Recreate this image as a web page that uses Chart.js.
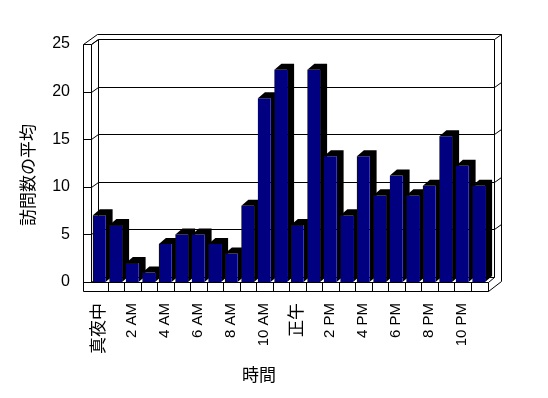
<!DOCTYPE html>
<html>
<head>
<meta charset="utf-8">
<script src="https://cdn.jsdelivr.net/npm/chart.js@4"></script>
<style>
html,body{margin:0;padding:0;background:#fff;}
#wrap{width:548px;height:398px;}
</style>
</head>
<body>
<div id="wrap"><canvas id="c" width="548" height="398"></canvas></div>
<script>
const categories = ['真夜中','1 AM','2 AM','3 AM','4 AM','5 AM','6 AM','7 AM','8 AM','9 AM','10 AM','11 AM',
                    '正午','1 PM','2 PM','3 PM','4 PM','5 PM','6 PM','7 PM','8 PM','9 PM','10 PM','11 PM'];
const visits = [7, 6, 2, 1, 4, 5, 5, 4, 3, 8, 19.3, 22.3, 6, 22.3, 13.2, 7, 13.2, 9.1, 11.2, 9.1, 10.1, 15.3, 12.2, 10.1];
const yTicks = [0, 5, 10, 15, 20, 25];
const xTitle = '時間';
const yTitle = '訪問数の平均';

const FONT = "'Liberation Sans', 'Noto Sans CJK JP', sans-serif";

const frame3d = {
  id: 'frame3d',
  beforeDatasetsDraw(chart) {
    const {ctx, chartArea: a, scales: {x, y}} = chart;
    const L = a.left, R = a.right, T = a.top, B = a.bottom;
    const dx = 7, dy = 5, W = 8, F = 9;
    const bdx = 7, bdy = 6;
    ctx.save();
    ctx.strokeStyle = '#000';
    ctx.lineWidth = 1;
    const line = (pts) => {
      ctx.beginPath();
      pts.forEach((p, i) => {
        const px = Math.round(p[0]) + 0.5, py = Math.round(p[1]) + 0.5;
        if (i) ctx.lineTo(px, py); else ctx.moveTo(px, py);
      });
      ctx.stroke();
    };
    // walls outline
    line([[L - W, B + F], [L - W, T], [L - W + 2 * dx, T - 2 * dy], [R + 2 * dx, T - 2 * dy], [R + 2 * dx, B + F - 2 * dy]]);
    line([[L, B], [L, T], [L + dx, T - dy], [L + dx, B - dy]]);
    line([[R + dx, T - dy], [R + dx, B - dy]]);
    // grid lines on back wall through tick values
    yTicks.forEach(v => {
      const yv = y.getPixelForValue(v);
      if (v === 0) {
        line([[L - W, yv], [L, yv], [L + dx, yv - dy], [R + dx, yv - dy]]);
      } else {
        line([[L - W, yv], [L, yv], [L + dx, yv - dy], [R + dx, yv - dy], [R + 2 * dx, yv - 2 * dy]]);
      }
    });
    // floor front face
    line([[L - W, B + F], [R + 1, B + F], [R + 1, B], [L, B]]);
    line([[R + 1, B + F], [R + 2 * dx, B + F - 2 * dy]]);
    line([[R + 1, B], [R + dx, B - dy]]);
    const n = categories.length;
    for (let i = 1; i < n; i++) {
      const xb = (x.getPixelForValue(i - 1) + x.getPixelForValue(i)) / 2;
      line([[xb, B], [xb, B + F]]);
    }
    // bar depth (top + side faces)
    ctx.fillStyle = '#000';
    chart.getDatasetMeta(0).data.forEach(el => {
      const p = el.getProps(['x', 'y', 'base', 'width'], true);
      const l = p.x - p.width / 2, r = p.x + p.width / 2;
      ctx.beginPath();
      ctx.moveTo(l, p.y);
      ctx.lineTo(l + bdx, p.y - bdy);
      ctx.lineTo(r + bdx, p.y - bdy);
      ctx.lineTo(r + bdx, p.base - bdy);
      ctx.lineTo(r, p.base);
      ctx.lineTo(r, p.y);
      ctx.closePath();
      ctx.fill();
    });
    ctx.restore();
  },
  afterDraw(chart) {
    const {ctx, chartArea: a} = chart;
    ctx.save();
    ctx.fillStyle = '#000';
    ctx.font = "17px 'Noto Sans CJK JP', sans-serif";
    ctx.textAlign = 'center';
    ctx.textBaseline = 'middle';
    ctx.fillText(xTitle, a.left + 168, 375);
    ctx.translate(28, a.top + 131);
    ctx.rotate(-Math.PI / 2);
    ctx.fillText(yTitle, 0, 0);
    ctx.restore();
  }
};

new Chart(document.getElementById('c'), {
  type: 'bar',
  data: {
    labels: categories,
    datasets: [{
      label: yTitle,
      data: visits,
      backgroundColor: '#000080',
      borderWidth: 0,
      barPercentage: 0.77,
      categoryPercentage: 1.0
    }]
  },
  options: {
    responsive: false,
    animation: false,
    devicePixelRatio: 1,
    layout: { padding: { top: 44, right: 61, left: 0, bottom: 0 } },
    plugins: { legend: { display: false }, tooltip: { enabled: false } },
    scales: {
      x: {
        grid: { display: false, drawTicks: false },
        border: { display: false },
        ticks: {
          autoSkip: false,
          maxRotation: 90,
          minRotation: 90,
          padding: 21,
          color: '#000',
          font: (c) => ({ family: FONT, size: /[A-Z]/.test(categories[c.index] || 'A') ? 15 : 17 }),
          callback: (v, i) => (i % 2 === 0 ? categories[i] : '')
        },
        afterFit: (s) => { s.height = 116; }
      },
      y: {
        min: 0,
        max: 25,
        grid: { display: false, drawTicks: false },
        border: { display: false },
        ticks: {
          stepSize: 5,
          padding: 21,
          color: '#000',
          font: { family: FONT, size: 16 }
        },
        afterFit: (s) => { s.width = 91; }
      }
    }
  },
  plugins: [frame3d]
});
</script>
</body>
</html>
